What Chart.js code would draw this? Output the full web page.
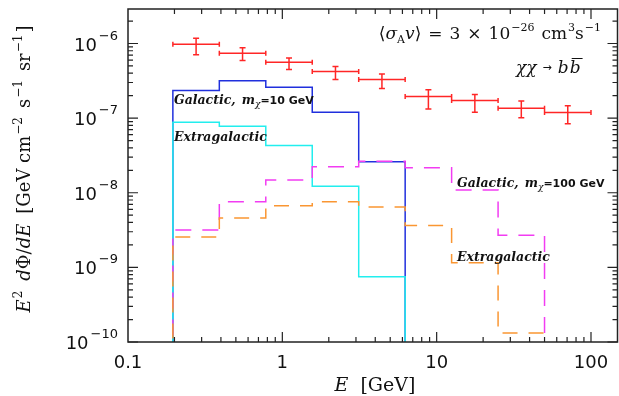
<!DOCTYPE html>
<html>
<head>
<meta charset="utf-8">
<script src="https://cdn.jsdelivr.net/npm/chart.js@4.4.0/dist/chart.umd.min.js"></script>
<style>
  html, body { margin: 0; padding: 0; background: #fff; }
</style>
</head>
<body>
<canvas id="chart" width="619" height="396"></canvas>
<script>
// energy bins [GeV], factor 2 wide, up to 100 GeV
const binEdges = [0.1953, 0.3906, 0.78125, 1.5625, 3.125, 6.25, 12.5, 25, 50, 100];

// measured flux with errors (red points)
const dataFlux = [9.8e-7, 7.4e-7, 5.6e-7, 4.2e-7, 3.3e-7, 1.95e-7, 1.72e-7, 1.36e-7, 1.19e-7];
const dataHi   = [1.18e-6, 8.8e-7, 6.4e-7, 4.9e-7, 3.9e-7, 2.4e-7, 2.07e-7, 1.69e-7, 1.46e-7];
const dataLo   = [7.05e-7, 5.9e-7, 4.5e-7, 3.3e-7, 2.5e-7, 1.33e-7, 1.2e-7, 1.01e-7, 8.4e-8];

// model spectra, one value per bin
const gal10    = [2.34e-7, 3.16e-7, 2.6e-7, 1.2e-7, 2.6e-8];
const extra10  = [8.8e-8, 7.8e-8, 4.3e-8, 1.22e-8, 7.5e-10];
const gal100   = [3.16e-9, 7.6e-9, 1.48e-8, 2.23e-8, 2.65e-8, 2.17e-8, 1.09e-8, 2.7e-9];
const extra100 = [2.55e-9, 4.6e-9, 6.7e-9, 7.6e-9, 6.45e-9, 3.65e-9, 1.15e-9, 1.32e-10];

// axis ticks
const xTickValues = [0.1, 1, 10, 100];
const xTickLabels = ['0.1', '1', '10', '100'];
const yTickExps = [-10, -9, -8, -7, -6];

const floorY = 1e-11; // below the axis, lines get clipped

const SERIF = '"DejaVu Serif", serif';
const SANS = '"DejaVu Sans", sans-serif';

function histPoints(values) {
    const pts = [{ x: binEdges[0], y: floorY }];
    values.forEach(function (v, i) {
        pts.push({ x: binEdges[i], y: v });
        pts.push({ x: binEdges[i + 1], y: v });
    });
    pts.push({ x: binEdges[values.length], y: floorY });
    return pts;
}

const centers = dataFlux.map(function (v, i) {
    return { x: Math.sqrt(binEdges[i] * binEdges[i + 1]), y: v };
});

function lineSet(label, values, color, dash) {
    return {
        label: label,
        data: histPoints(values),
        showLine: true,
        borderColor: color,
        borderWidth: 1.5,
        borderDash: dash || [],
        pointRadius: 0,
        fill: false,
        tension: 0
    };
}

function richWidth(ctx, parts) {
    let w = 0;
    parts.forEach(function (p) {
        ctx.font = p.f;
        w += ctx.measureText(p.t).width + (p.dx || 0);
    });
    return w;
}

function drawRich(ctx, x, y, parts) {
    parts.forEach(function (p) {
        ctx.font = p.f;
        x += (p.dx || 0);
        ctx.fillText(p.t, x, y + (p.dy || 0));
        x += ctx.measureText(p.t).width;
    });
    return x;
}

const decorPlugin = {
    id: 'decor',
    afterDatasetsDraw(chart) {
        // error bars of the data points
        const ctx = chart.ctx, xs = chart.scales.x, ys = chart.scales.y;
        ctx.save();
        ctx.strokeStyle = '#ff2626';
        ctx.lineWidth = 1.5;
        ctx.beginPath();
        dataFlux.forEach(function (v, i) {
            const x0 = xs.getPixelForValue(binEdges[i]);
            const x1 = xs.getPixelForValue(binEdges[i + 1]);
            const xc = xs.getPixelForValue(centers[i].x);
            const yc = ys.getPixelForValue(v);
            const yh = ys.getPixelForValue(dataHi[i]);
            const yl = ys.getPixelForValue(dataLo[i]);
            ctx.moveTo(x0, yc); ctx.lineTo(x1, yc);
            ctx.moveTo(x0, yc - 2.5); ctx.lineTo(x0, yc + 2.5);
            ctx.moveTo(x1, yc - 2.5); ctx.lineTo(x1, yc + 2.5);
            ctx.moveTo(xc, yh); ctx.lineTo(xc, yl);
            ctx.moveTo(xc - 3, yh); ctx.lineTo(xc + 3, yh);
            ctx.moveTo(xc - 3, yl); ctx.lineTo(xc + 3, yl);
        });
        ctx.stroke();
        ctx.restore();
    },
    afterDraw(chart) {
        const ctx = chart.ctx, xs = chart.scales.x, ys = chart.scales.y;
        const a = chart.chartArea;
        ctx.save();

        // frame
        ctx.strokeStyle = '#222';
        ctx.lineWidth = 1.5;
        ctx.strokeRect(a.left, a.top, a.right - a.left, a.bottom - a.top);

        // inward ticks on all four sides
        ctx.lineWidth = 1.2;
        ctx.beginPath();
        for (let d = -1; d <= 2; d++) {
            for (let k = 1; k <= 9; k++) {
                const v = k * Math.pow(10, d);
                if (v <= xs.min || v >= xs.max) continue;
                const px = xs.getPixelForValue(v);
                const len = k === 1 ? 10 : 5;
                ctx.moveTo(px, a.bottom); ctx.lineTo(px, a.bottom - len);
                ctx.moveTo(px, a.top); ctx.lineTo(px, a.top + len);
            }
        }
        for (let d = -10; d <= -6; d++) {
            for (let k = 1; k <= 9; k++) {
                const v = k * Math.pow(10, d);
                if (v <= ys.min * 0.999 || v >= ys.max) continue;
                const py = ys.getPixelForValue(v);
                const len = k === 1 ? 10 : 5;
                ctx.moveTo(a.left, py); ctx.lineTo(a.left + len, py);
                ctx.moveTo(a.right, py); ctx.lineTo(a.right - len, py);
            }
        }
        ctx.stroke();

        ctx.fillStyle = '#111';
        ctx.textBaseline = 'alphabetic';

        // x tick labels
        ctx.font = '18px ' + SANS;
        ctx.textAlign = 'center';
        xTickValues.forEach(function (v, i) {
            ctx.fillText(xTickLabels[i], xs.getPixelForValue(v), a.bottom + 26);
        });

        // y tick labels 10^n
        ctx.textAlign = 'left';
        yTickExps.forEach(function (e) {
            const py = ys.getPixelForValue(Math.pow(10, e));
            const parts = [
                { t: '10', f: '18px ' + SANS },
                { t: '\u2212' + Math.abs(e), f: '13px ' + SANS, dy: -11, dx: 2 }
            ];
            const w = richWidth(ctx, parts);
            drawRich(ctx, 118 - w, py + 7, parts);
        });

        // x axis title
        const xt = [
            { t: 'E', f: 'italic 19px ' + SERIF },
            { t: '[GeV]', f: '19px ' + SERIF, dx: 12 }
        ];
        drawRich(ctx, 375 - richWidth(ctx, xt) / 2, 391, xt);

        // y axis title
        const sup = '12px ' + SERIF;
        const yt = [
            { t: 'E', f: 'italic 18px ' + SERIF },
            { t: '2', f: sup, dy: -8, dx: 1 },
            { t: 'd', f: 'italic 18px ' + SERIF, dx: 10 },
            { t: '\u03a6/', f: '18px ' + SERIF },
            { t: 'dE', f: 'italic 18px ' + SERIF },
            { t: '[GeV cm', f: '18px ' + SERIF, dx: 10 },
            { t: '\u22122', f: sup, dy: -8, dx: 1 },
            { t: 's', f: '18px ' + SERIF, dx: 9 },
            { t: '\u22121', f: sup, dy: -8, dx: 1 },
            { t: 'sr', f: '18px ' + SERIF, dx: 9 },
            { t: '\u22121', f: sup, dy: -8, dx: 1 },
            { t: ']', f: '18px ' + SERIF, dx: 2 }
        ];
        ctx.save();
        ctx.translate(30, 169);
        ctx.rotate(-Math.PI / 2);
        drawRich(ctx, -richWidth(ctx, yt) / 2, 0, yt);
        ctx.restore();

        // cross section label
        const big = '17px ' + SERIF, bigI = 'italic 17px ' + SERIF, small = '11px ' + SERIF;
        const cs = [
            { t: '\u27e8', f: big },
            { t: '\u03c3', f: bigI },
            { t: 'A', f: small, dy: 4 },
            { t: 'v', f: bigI },
            { t: '\u27e9', f: big },
            { t: '=', f: big, dx: 7 },
            { t: '3', f: big, dx: 7 },
            { t: '\u00d7', f: big, dx: 7 },
            { t: '10', f: big, dx: 7 },
            { t: '\u221226', f: small, dy: -8, dx: 1 },
            { t: 'cm', f: big, dx: 7 },
            { t: '3', f: small, dy: -8, dx: 1 },
            { t: 's', f: big },
            { t: '\u22121', f: small, dy: -8, dx: 1 }
        ];
        drawRich(ctx, 601 - richWidth(ctx, cs), 39, cs);

        // channel label
        const ch = [
            { t: '\u03c7\u03c7', f: bigI },
            { t: '\u2192', f: '11px ' + SANS, dx: 6, dy: -2 },
            { t: 'b', f: bigI, dx: 6 }
        ];
        let xe = drawRich(ctx, 516, 73, ch);
        ctx.font = bigI;
        const bw = ctx.measureText('b').width;
        ctx.fillText('b', xe + 1, 73);
        ctx.lineWidth = 1;
        ctx.strokeStyle = '#111';
        ctx.beginPath();
        ctx.moveTo(xe + 3, 58.5); ctx.lineTo(xe + bw + 3, 58.5);
        ctx.stroke();

        // curve labels
        const lab = 'italic bold 12.5px ' + SERIF;
        function galLabel(x, y, mass) {
            drawRich(ctx, x, y, [
                { t: 'Galactic,', f: lab },
                { t: 'm', f: lab, dx: 6 },
                { t: '\u03c7', f: 'italic 9px ' + SERIF, dy: 3 },
                { t: '=' + mass + ' GeV', f: 'bold 11px ' + SANS }
            ]);
        }
        galLabel(174, 104, 10);
        galLabel(457, 187, 100);
        ctx.font = lab;
        ctx.fillText('Extragalactic', 174, 140.5);
        ctx.fillText('Extragalactic', 457, 260.5);

        ctx.restore();
    }
};

new Chart(document.getElementById('chart'), {
    type: 'scatter',
    data: {
        datasets: [
            lineSet('Extragalactic 100 GeV', extra100, '#fa9632', [15, 11]),
            lineSet('Galactic 100 GeV', gal100, '#f23cf2', [16, 11]),
            lineSet('Extragalactic 10 GeV', extra10, '#22eeee'),
            lineSet('Galactic 10 GeV', gal10, '#2030dd'),
            {
                label: 'data',
                data: centers,
                pointRadius: 0,
                showLine: false
            }
        ]
    },
    options: {
        responsive: false,
        animation: false,
        devicePixelRatio: 1,
        layout: { padding: { left: 128, top: 9, right: 1.5, bottom: 54 } },
        plugins: {
            legend: { display: false },
            tooltip: { enabled: false }
        },
        scales: {
            x: { type: 'logarithmic', min: 0.1, max: 148.5, display: false },
            y: { type: 'logarithmic', min: 1e-10, max: 2.9e-6, display: false }
        }
    },
    plugins: [decorPlugin]
});
</script>
</body>
</html>
